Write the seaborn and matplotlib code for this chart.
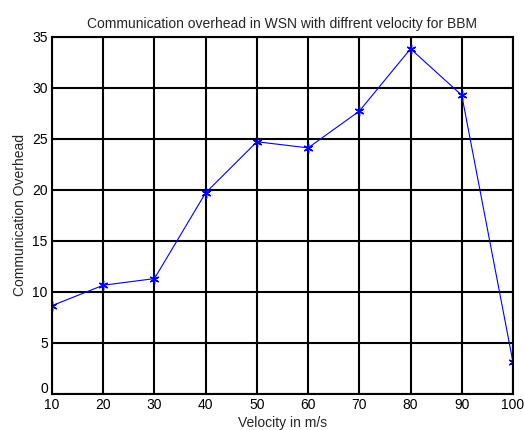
import numpy as np
import pandas as pd
import matplotlib
matplotlib.use('Agg')
import matplotlib.pyplot as plt
import matplotlib.transforms as mtransforms
import seaborn as sns

velocity = [10, 20, 30, 40, 50, 60, 70, 80, 90, 100]
overhead = [8.65, 10.65, 11.3, 19.7, 24.7, 24.1, 27.7, 33.8, 29.25, 3.1]

df = pd.DataFrame({'velocity': velocity, 'overhead': overhead})

sns.set_style('white')
plt.rcParams['font.family'] = ['Liberation Sans', 'DejaVu Sans']

fig = plt.figure(figsize=(5.24, 4.3), dpi=100)
ax = fig.add_axes([0.0992, 0.0837, 0.8798, 0.8313])

sns.lineplot(data=df, x='velocity', y='overhead', ax=ax, color='blue',
             marker=(6, 2, 0), markersize=7, markeredgecolor='blue',
             markeredgewidth=1, linewidth=0.8)

ax.set_xlim(10, 100)
ax.set_ylim(0, 35)
ax.set_xticks(np.arange(10, 101, 10))
ax.set_yticks(np.arange(0, 36, 5))
ax.grid(True, color='black', linewidth=1.5, linestyle='-')
for s in ax.spines.values():
    s.set_color('black')
    s.set_linewidth(1.5)
ax.tick_params(direction='in', length=4, width=1, labelsize=10, colors='black', pad=3)

# nudge the "0" label up a little so it clears the "10" below it
lbl0 = ax.get_yticklabels()[0]
lbl0.set_transform(lbl0.get_transform() + mtransforms.ScaledTranslation(0, 5 / 72, fig.dpi_scale_trans))

ax.set_title('Communication overhead in WSN with diffrent velocity for BBM', fontsize=10, pad=6)
ax.set_xlabel('Velocity in m/s', fontsize=10, labelpad=3)
ax.set_ylabel('Communication Overhead', fontsize=10, labelpad=4)

fig.savefig('out.png', dpi=100)
